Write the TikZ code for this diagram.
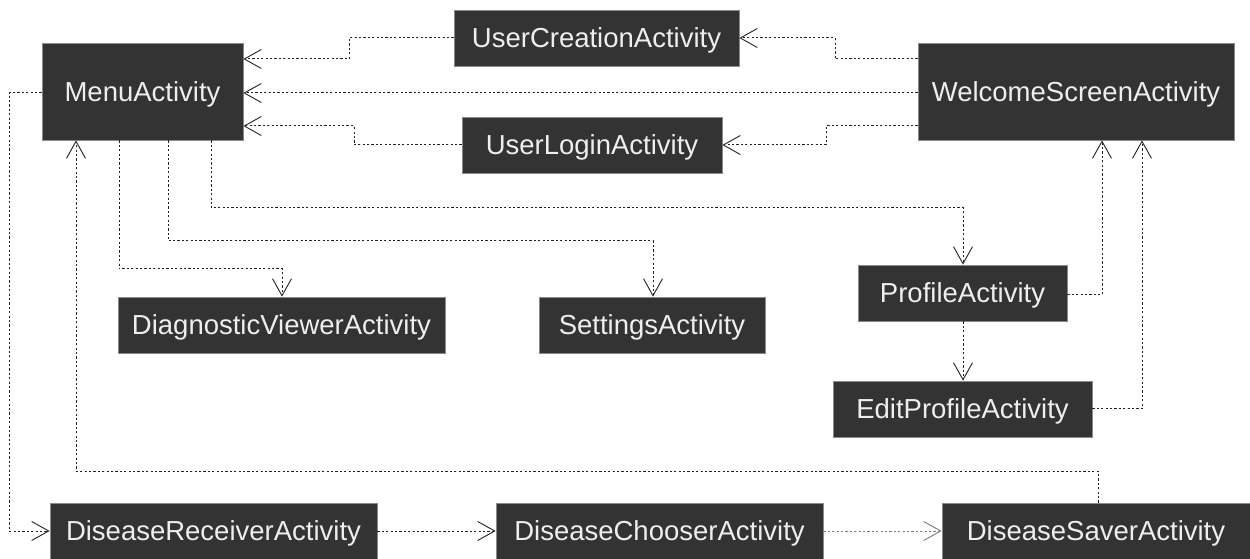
\documentclass[tikz,border=0pt]{standalone}
\usepackage{fontspec}
\setmainfont{Liberation Sans}
\usetikzlibrary{arrows.meta}
\definecolor{boxfill}{HTML}{333333}
\definecolor{boxedge}{HTML}{8A8A8A}
\definecolor{linkcol}{HTML}{222222}
\definecolor{textcol}{HTML}{EEEEEE}
\begin{document}
\begin{tikzpicture}[x=1bp,y=-1bp,
  act/.style={fill=boxfill, draw=boxedge, line width=0.8bp, text=textcol,
    font=\fontsize{27.5bp}{30bp}\selectfont, inner sep=0pt, minimum height=56bp,
    text height=19.8bp, text depth=0pt},
  tall/.style={minimum height=97bp},
  link/.style={draw=linkcol, line width=1bp, dash pattern=on 2.2bp off 2.2bp,
    -{Straight Barb[length=17bp,width=19bp,line width=0.9bp]}}
]
\useasboundingbox (0,0) rectangle (1250,559);

% activities
\node[act, tall, minimum width=201bp] (menu)     at (142.5,91.5) {MenuActivity};
\node[act, minimum width=285bp]       (ucreate)  at (596.5,38)   {UserCreationActivity};
\node[act, tall, minimum width=316bp] (welcome)  at (1076,91.5)  {WelcomeScreenActivity};
\node[act, minimum width=260bp]       (ulogin)   at (592,145)    {UserLoginActivity};
\node[act, minimum width=327bp]       (diag)     at (281.5,325)  {DiagnosticViewerActivity};
\node[act, minimum width=226bp]       (settings) at (652,325)    {SettingsActivity};
\node[act, minimum width=209bp]       (profile)  at (962.5,293)  {ProfileActivity};
\node[act, minimum width=259bp]       (editprof) at (962.5,409)  {EditProfileActivity};
\node[act, minimum width=327bp]       (receiver) at (213.5,531)  {DiseaseReceiverActivity};
\node[act, minimum width=327bp]       (chooser)  at (659.5,531)  {DiseaseChooserActivity};
\node[act, minimum width=308bp]       (saver)    at (1096,531)   {DiseaseSaverActivity};

% navigation from the welcome screen
\draw[link] (welcome.west |- 0,59) -- (835,59) -- (835,38) -- (ucreate.east);
\draw[link] (welcome.west |- 0,93) -- (menu.east |- 0,93);
\draw[link] (welcome.west |- 0,126) -- (826,126) -- (826,145) -- (ulogin.east);

% account screens back to the menu
\draw[link] (ucreate.west) -- (349,38) -- (349,59) -- (menu.east |- 0,59);
\draw[link] (ulogin.west) -- (354,145) -- (354,126) -- (menu.east |- 0,126);

% menu targets
\draw[link] (menu.west |- 0,93) -- (9,93) -- (9,531) -- (receiver.west);
\draw[link] (menu.south -| 119,0) -- (119,269) -- (282,269) -- (diag.north -| 282,0);
\draw[link] (menu.south -| 168,0) -- (168,241) -- (653,241) -- (settings.north -| 653,0);
\draw[link] (menu.south -| 211,0) -- (211,208) -- (963,208) -- (profile.north -| 963,0);

% profile screens
\draw[link] (profile.south -| 963,0) -- (editprof.north -| 963,0);
\draw[link] (profile.east |- 0,295) -- (1102,295) -- (welcome.south -| 1102,0);
\draw[link] (editprof.east |- 0,409) -- (1142,409) -- (welcome.south -| 1142,0);

% disease flow
\draw[link] (receiver.east) -- (chooser.west);
\draw[link, draw=linkcol!60] (chooser.east) -- (saver.west);
\draw[link] (saver.north -| 1098,0) -- (1098,471) -- (76,471) -- (menu.south -| 76,0);
\end{tikzpicture}
\end{document}
